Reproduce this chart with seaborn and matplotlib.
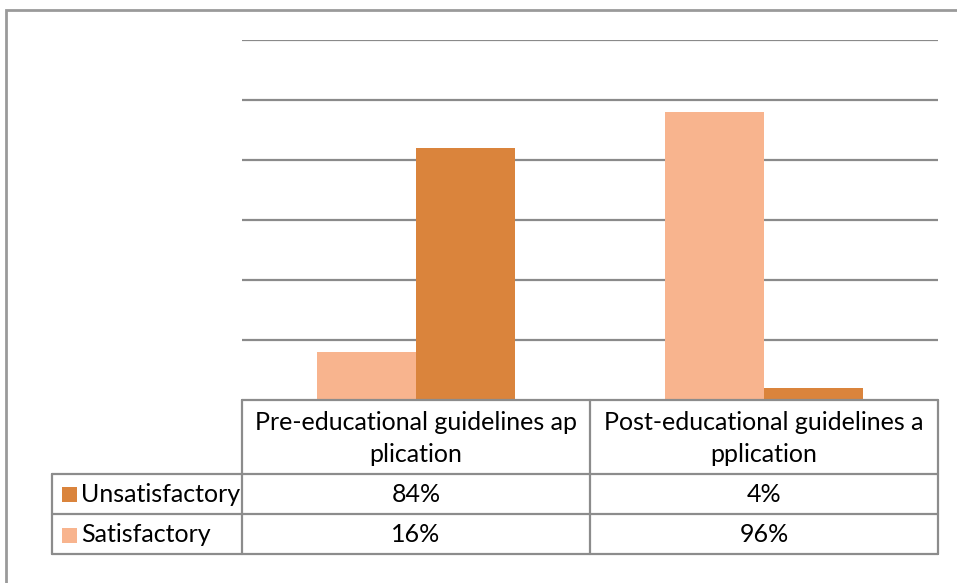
import matplotlib
matplotlib.use("Agg")
import matplotlib.pyplot as plt
import seaborn as sns
import pandas as pd
from matplotlib.lines import Line2D
from matplotlib.patches import Rectangle

# Data
categories = ["Pre-educational guidelines application", "Post-educational guidelines application"]
header_lines = [["Pre-educational guidelines ap", "plication"],
                ["Post-educational guidelines a", "pplication"]]
unsatisfactory = [84, 4]
satisfactory = [16, 96]
series_names = ["Unsatisfactory", "Satisfactory"]

colors = {"Unsatisfactory": "#DA843C", "Satisfactory": "#F8B48E"}
grid_color = "#8A8A8A"
table_color = "#8C8C8C"

df = pd.DataFrame({
    "category": categories * 2,
    "status": ["Satisfactory"] * 2 + ["Unsatisfactory"] * 2,
    "value": satisfactory + unsatisfactory,
})

sns.set_theme(style="white")
plt.rcParams["font.family"] = ["Lato", "DejaVu Sans"]

W, H = 957, 583
fig = plt.figure(figsize=(W / 100, H / 100), dpi=100)


def fx(x):
    return x / W


def fy(y):
    return 1 - y / H


# Plot area
left, right, top, bottom = 242, 938, 40, 400
ax = fig.add_axes([fx(left), fy(bottom), fx(right - left), (bottom - top) / H])
sns.barplot(data=df, x="category", y="value", hue="status",
            hue_order=["Satisfactory", "Unsatisfactory"],
            palette=colors, saturation=1, width=0.57, legend=False,
            linewidth=0, edgecolor="none", ax=ax)
ax.set_ylim(0, 120)
ax.set_xlim(-0.5, 1.5)
ax.set_yticks(range(20, 121, 20))
ax.yaxis.grid(True, color=grid_color, linewidth=1.6)
ax.set_axisbelow(True)
ax.set_xticks([])
ax.set_yticklabels([])
ax.tick_params(left=False, bottom=False)
ax.set_xlabel("")
ax.set_ylabel("")
for s in ax.spines.values():
    s.set_visible(False)

# Outer chart border
fig.add_artist(Rectangle((fx(6), fy(600)), fx(1000), (600 - 10) / H, fill=False,
                         edgecolor="#9A9A9A", linewidth=2, transform=fig.transFigure))


def hline(y, x0, x1):
    fig.add_artist(Line2D([fx(x0), fx(x1)], [fy(y), fy(y)], color=table_color,
                          linewidth=1.6, transform=fig.transFigure))


def vline(x, y0, y1):
    fig.add_artist(Line2D([fx(x), fx(x)], [fy(y0), fy(y1)], color=table_color,
                          linewidth=1.6, transform=fig.transFigure))


# Data table grid
col_edges = [242, 590, 938]
hline(400, 242, 938)
for y in (474, 514, 554):
    hline(y, 52, 938)
for x in col_edges:
    vline(x, 400, 554)
vline(52, 474, 554)

fs = 18
txt = "#000000"
# Header text
for i, lines in enumerate(header_lines):
    cx = (col_edges[i] + col_edges[i + 1]) / 2
    fig.text(fx(cx), fy(423), lines[0], ha="center", va="center", fontsize=fs, color=txt)
    fig.text(fx(cx), fy(455), lines[1], ha="center", va="center", fontsize=fs, color=txt)

# Rows: label with legend key, then values
rows = [("Unsatisfactory", unsatisfactory, 494), ("Satisfactory", satisfactory, 535)]
for name, vals, yc in rows:
    fig.add_artist(Rectangle((fx(62), fy(yc + 8)), fx(15), 15 / H, facecolor=colors[name],
                             edgecolor="none", transform=fig.transFigure))
    fig.text(fx(81), fy(yc), name, ha="left", va="center", fontsize=fs, color=txt)
    for i, v in enumerate(vals):
        cx = (col_edges[i] + col_edges[i + 1]) / 2
        fig.text(fx(cx), fy(yc), f"{v}%", ha="center", va="center", fontsize=fs, color=txt)

fig.savefig("out.png", dpi=100, facecolor="white")
